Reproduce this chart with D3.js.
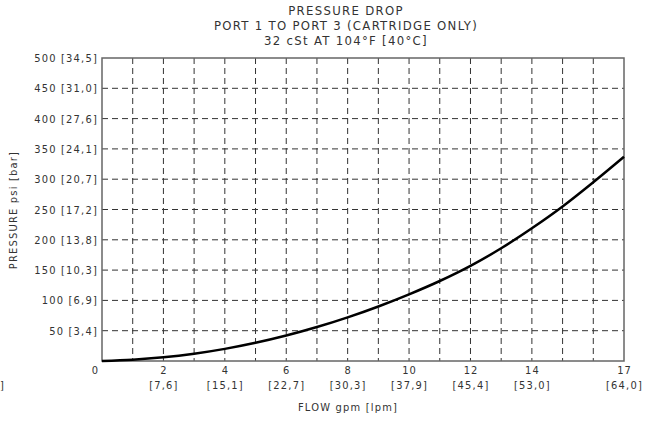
<!DOCTYPE html>
<html>
<head>
<meta charset="utf-8">
<script src="https://cdn.jsdelivr.net/npm/d3@7"></script>
<style>
  body { margin: 0; background: #fff; }
  svg text { font-family: "DejaVu Sans Condensed", "Liberation Sans Narrow", sans-serif; fill: #333; }
</style>
</head>
<body>
<svg width="654" height="421"></svg>
<script>
// flow (gpm) and pressure drop (psi)
var flow = [0, 1, 2, 3, 4, 5, 6, 7, 8, 9, 10, 11, 12, 13, 14, 15, 16, 17];
var psi  = [0, 2, 6, 12, 20, 30, 42, 56, 72, 90, 110, 132, 157, 186, 219, 255, 295, 337];

var xTicks = [0, 2, 4, 6, 8, 10, 12, 14, 17];
var xLpm   = ["", "[7,6]", "[15,1]", "[22,7]", "[30,3]", "[37,9]", "[45,4]", "[53,0]", "[64,0]"];
var yTicks = [50, 100, 150, 200, 250, 300, 350, 400, 450, 500];
var yBar   = ["[3,4]", "[6,9]", "[10,3]", "[13,8]", "[17,2]", "[20,7]", "[24,1]", "[27,6]", "[31,0]", "[34,5]"];
var titles = ["PRESSURE DROP", "PORT 1 TO PORT 3 (CARTRIDGE ONLY)", "32 cSt AT 104\u00b0F [40\u00b0C]"];

var pLeft = 102, pRight = 624, pTop = 58, pBottom = 361;
var svg = d3.select("svg");

var x = d3.scaleLinear().domain([0, 17]).range([pLeft, pRight]);
var y = d3.scaleLinear().domain([0, 500]).range([pBottom, pTop]);

// titles
svg.selectAll(".title").data(titles).enter().append("text")
    .attr("class", "title")
    .attr("x", 346)
    .attr("y", function(d, i) { return 15 + i * 15; })
    .attr("text-anchor", "middle")
    .style("font-size", "13px")
    .style("letter-spacing", "1.3px")
    .text(function(d) { return d; });

// grid
svg.append("g").selectAll("line").data(d3.range(1, 17)).enter().append("line")
    .attr("x1", function(d) { return x(d); })
    .attr("x2", function(d) { return x(d); })
    .attr("y1", pTop).attr("y2", pBottom)
    .attr("stroke", "#333").attr("stroke-width", 1)
    .attr("stroke-dasharray", "6,4");

svg.append("g").selectAll("line").data(yTicks.slice(0, -1)).enter().append("line")
    .attr("x1", pLeft).attr("x2", pRight)
    .attr("y1", function(d) { return y(d); })
    .attr("y2", function(d) { return y(d); })
    .attr("stroke", "#333").attr("stroke-width", 1)
    .attr("stroke-dasharray", "6,4");

// frame
svg.append("rect")
    .attr("x", pLeft).attr("y", pTop)
    .attr("width", pRight - pLeft).attr("height", pBottom - pTop)
    .attr("fill", "none").attr("stroke", "#666").attr("stroke-width", 1.5);

// y axis labels
var yAxis = d3.axisLeft(y).tickValues(yTicks).tickSize(0).tickPadding(4)
    .tickFormat(function(d, i) { return d + " " + yBar[i]; });
var gy = svg.append("g").attr("transform", "translate(" + pLeft + ",0)").call(yAxis);
gy.select(".domain").remove();
gy.selectAll("text").style("font-size", "11px").style("letter-spacing", "1.2px").attr("fill", "#333");

// x axis labels
var xAxis = d3.axisBottom(x).tickValues(xTicks).tickSize(0).tickPadding(5)
    .tickFormat(function(d) { return d; });
var gx = svg.append("g").attr("transform", "translate(0," + pBottom + ")").call(xAxis);
gx.select(".domain").remove();
gx.selectAll("text").style("font-size", "11px").style("letter-spacing", "1px").attr("fill", "#333")
    .attr("x", function(d) { return d === 0 ? -7 : 0; });
gx.selectAll(".tick").append("text")
    .attr("y", 28)
    .attr("text-anchor", "middle")
    .style("font-size", "11px").style("letter-spacing", "1.2px")
    .text(function(d, i) { return xLpm[i]; });

svg.append("text").attr("x", 0).attr("y", 389)
    .style("font-size", "11px").text("]");

// axis titles
svg.append("text")
    .attr("x", 348).attr("y", 411)
    .attr("text-anchor", "middle")
    .style("font-size", "11px").style("letter-spacing", "1.2px")
    .text("FLOW gpm [lpm]");

svg.append("text")
    .attr("transform", "translate(17,210) rotate(-90)")
    .attr("text-anchor", "middle")
    .style("font-size", "11px").style("letter-spacing", "1.2px")
    .text("PRESSURE psi [bar]");

// curve
var line = d3.line()
    .x(function(d, i) { return x(flow[i]); })
    .y(function(d) { return y(d); })
    .curve(d3.curveMonotoneX);

svg.append("path")
    .datum(psi)
    .attr("d", line)
    .attr("fill", "none")
    .attr("stroke", "#000")
    .attr("stroke-width", 2.5);
</script>
</body>
</html>
